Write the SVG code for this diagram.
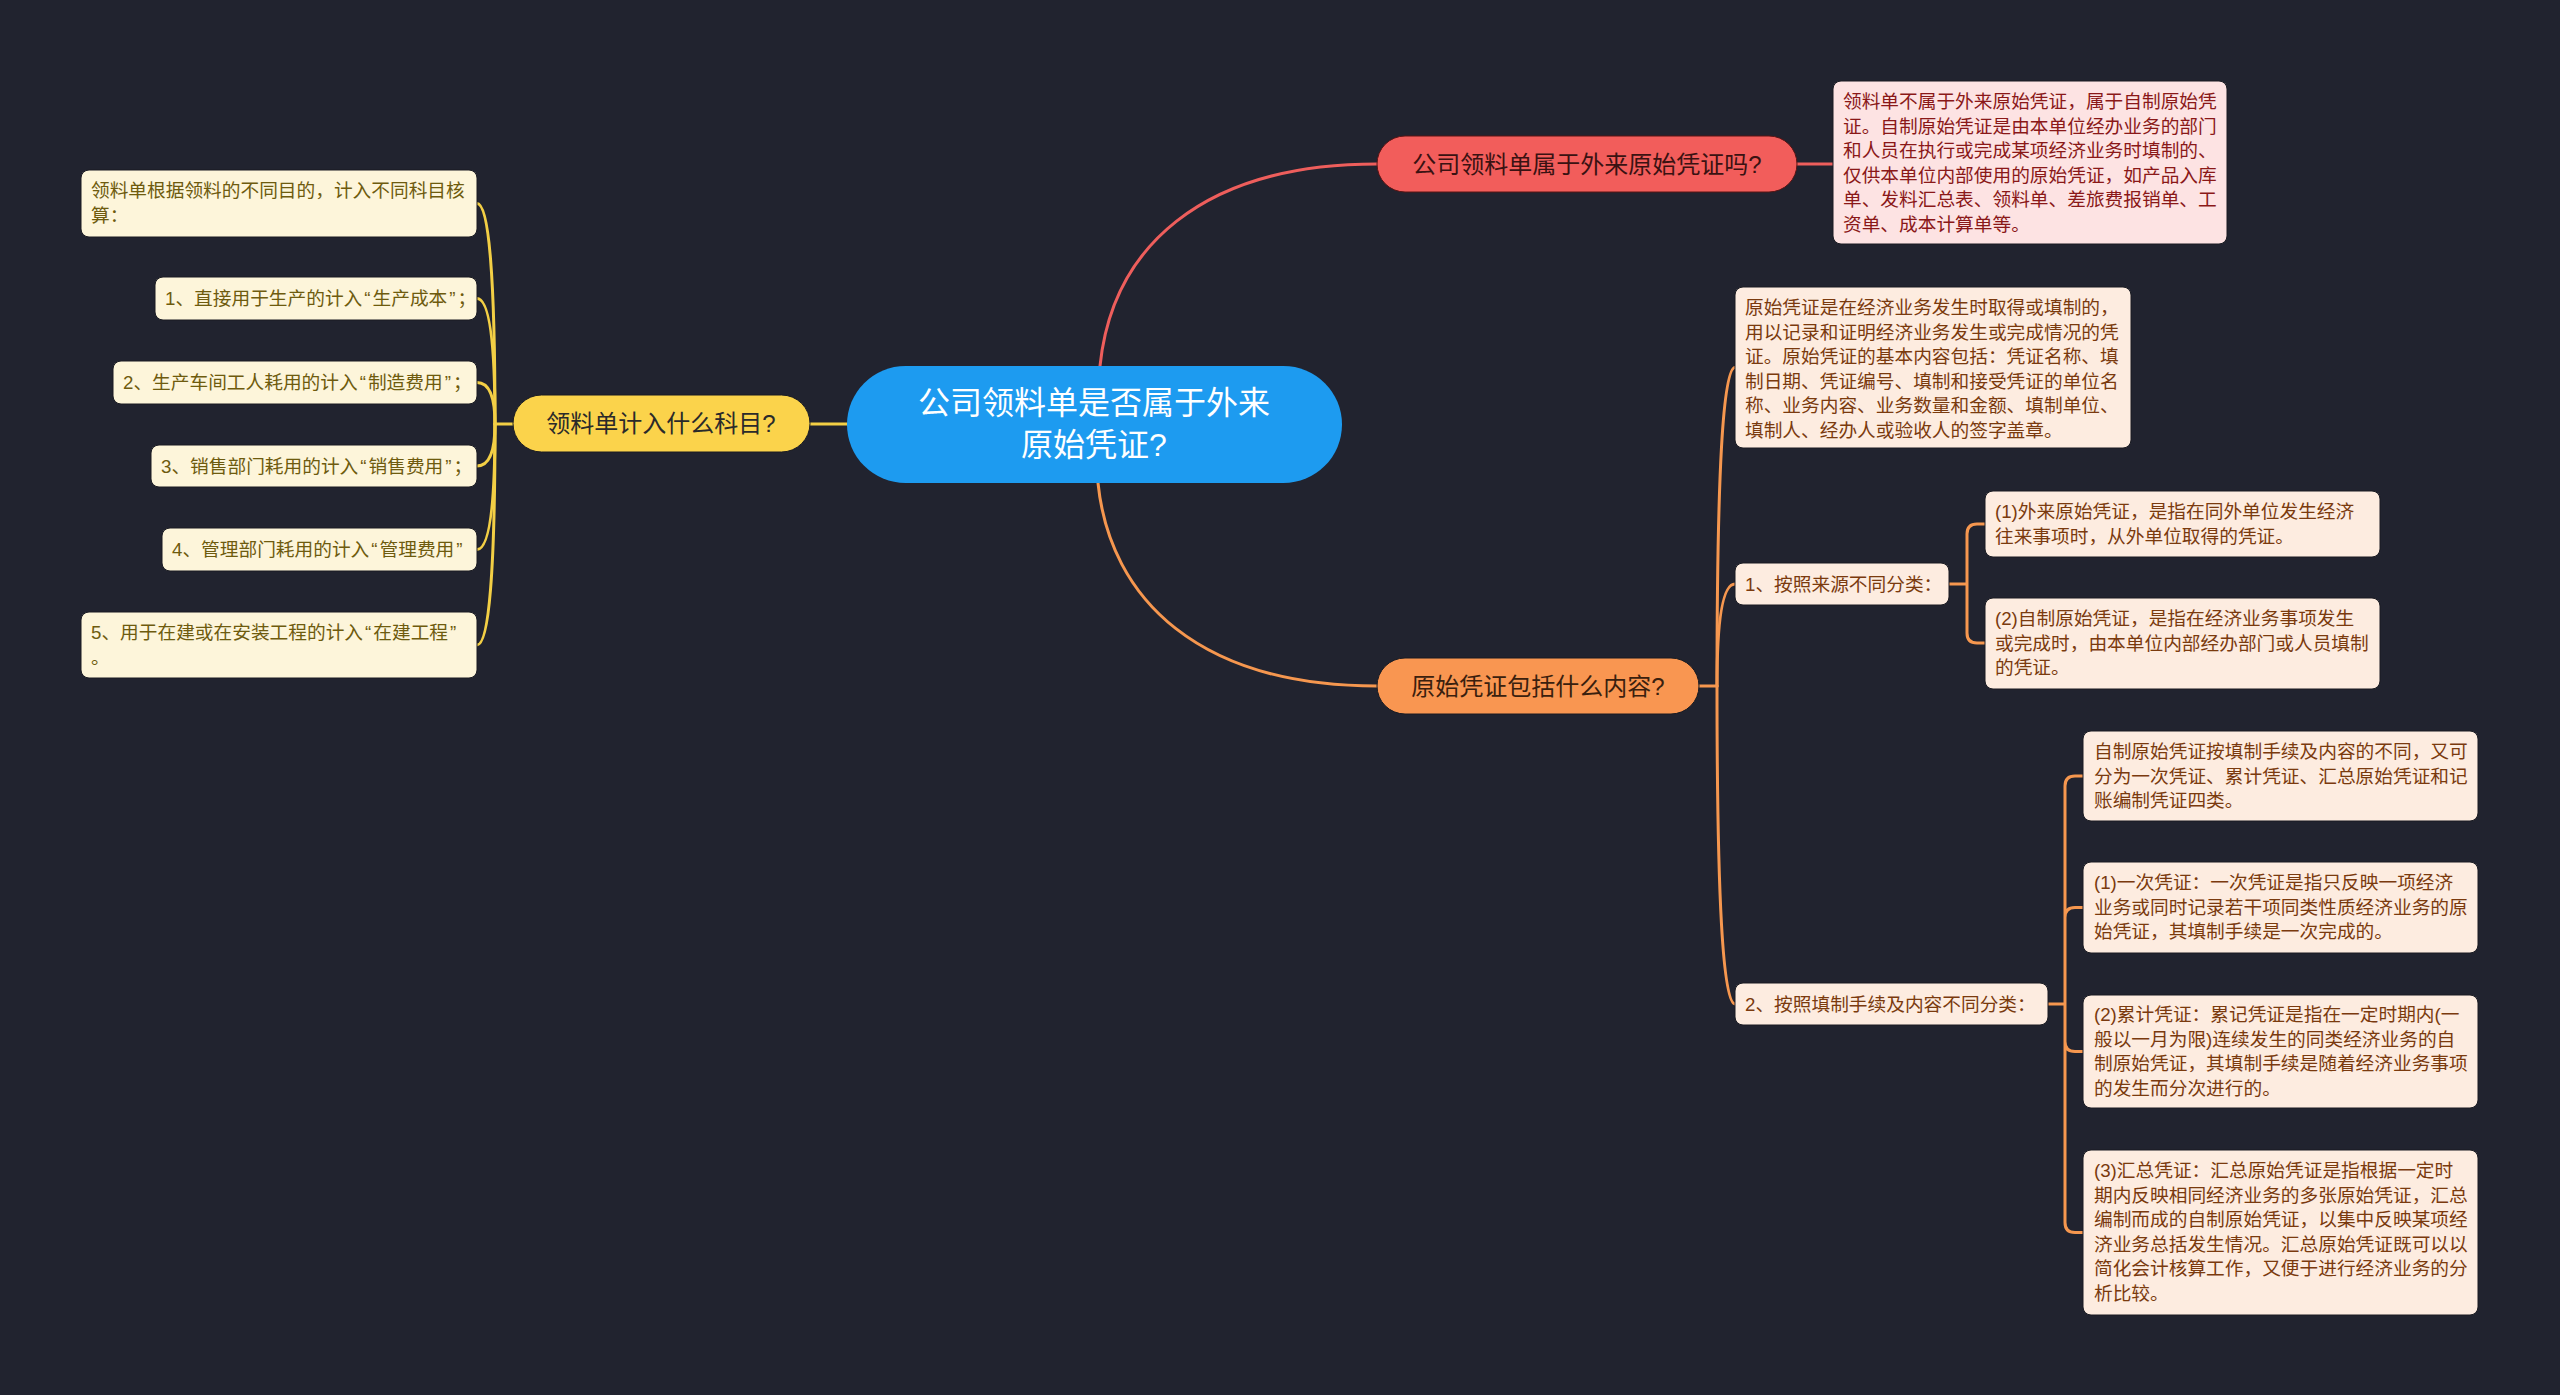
<svg xmlns="http://www.w3.org/2000/svg" width="2560" height="1395" viewBox="0 0 2560 1395">
<style>
text{font-family:"Liberation Sans","Noto Sans CJK SC",sans-serif;}
.leaf{font-size:18.7px;}
.ly rect{fill:#fdf5da;stroke:#1a1b22;stroke-width:1;}
.ly text{fill:#6e5b0e;}
.lr rect{fill:#fde3e3;stroke:#1a1b22;stroke-width:1;}
.lr text{fill:#8a1818;}
.lo rect{fill:#fdece0;stroke:#1a1b22;stroke-width:1;}
.lo text{fill:#7a3a0e;}
.main{font-size:24px;}
.c{fill:none;stroke-width:3;stroke-linecap:round;}
.cy{stroke:#f3cf45;}
.cr{stroke:#ee5e5c;}
.co{stroke:#f6974f;}
</style>
<rect x="0" y="0" width="2560" height="1395" fill="#21232f"/>
<g id="connectors">
<path class="c cy" d="M847 424H810"/>
<path class="c cr" d="M1100 366C1112 249 1200 164 1377 164"/>
<path class="c co" d="M1098 483C1110 600 1200 686 1377 686"/>
<path class="c cy" d="M513 424H495"/>
<path class="c cy" d="M495 424Q495 203.5 477 203.5"/>
<path class="c cy" d="M495 424Q495 298.5 477 298.5"/>
<path class="c cy" d="M495 424Q495 382.5 477 382.5"/>
<path class="c cy" d="M495 424Q495 466 477 466"/>
<path class="c cy" d="M495 424Q495 549.5 477 549.5"/>
<path class="c cy" d="M495 424Q495 645 477 645"/>
<path class="c cr" d="M1797 164H1833"/>
<path class="c co" d="M1699 686H1717"/>
<path class="c co" d="M1717 686Q1717 367.5 1735 367.5"/>
<path class="c co" d="M1717 686Q1717 584 1735 584"/>
<path class="c co" d="M1717 686Q1717 1004 1735 1004"/>
<path class="c co" d="M1949 584H1967M1967 584V534Q1967 524 1977 524H1985M1967 584V633Q1967 643 1977 643H1985"/>
<path class="c co" d="M2048 1004H2065M2065 1004V786Q2065 776 2075 776H2083M2065 1004V917.5Q2065 907.5 2075 907.5H2083M2065 1004V1041.5Q2065 1051.5 2075 1051.5H2083M2065 1004V1222.5Q2065 1232.5 2075 1232.5H2083"/>
</g>
<g id="center">
<rect x="847" y="366" width="495" height="117" rx="58.5" fill="#1d9bf0"/>
<text x="1094" y="413.5" font-size="32" fill="#ffffff" text-anchor="middle">公司领料单是否属于外来</text>
<text x="1094" y="455.5" font-size="32" fill="#ffffff" text-anchor="middle">原始凭证?</text>
</g>
<g id="n-yellow">
<rect x="513" y="395" width="297" height="57" rx="28.5" fill="#fbd34b" stroke="#1a1b22" stroke-width="1"/>
<text class="main" x="661" y="432" fill="#2a2a2a" text-anchor="middle">领料单计入什么科目?</text>
</g>
<g id="n-red">
<rect x="1377" y="136" width="420" height="56" rx="28" fill="#f25d5b" stroke="#5a1414" stroke-width="1"/>
<text class="main" x="1587" y="172.5" fill="#3a1212" text-anchor="middle">公司领料单属于外来原始凭证吗?</text>
</g>
<g id="n-orange">
<rect x="1377" y="658" width="322" height="56" rx="28" fill="#f99651" stroke="#1a1b22" stroke-width="1"/>
<text class="main" x="1538" y="694.5" fill="#3a200e" text-anchor="middle">原始凭证包括什么内容?</text>
</g>
<g id="y1" class="ly leaf"><rect x="81" y="170" width="396" height="67" rx="8"/><text x="91" y="197">领料单根据领料的不同目的，计入不同科目核</text><text x="91" y="221.5">算：</text></g>
<g id="y2" class="ly leaf"><rect x="155" y="277" width="322" height="43" rx="8"/><text x="165" y="305">1、直接用于生产的计入<tspan dx="2">“</tspan><tspan dx="2">生产成本</tspan><tspan dx="2">”</tspan><tspan dx="2">；</tspan></text></g>
<g id="y3" class="ly leaf"><rect x="113" y="361" width="364" height="43" rx="8"/><text x="123" y="389">2、生产车间工人耗用的计入<tspan dx="2">“</tspan><tspan dx="2">制造费用</tspan><tspan dx="2">”</tspan><tspan dx="2">；</tspan></text></g>
<g id="y4" class="ly leaf"><rect x="151" y="445" width="326" height="42" rx="8"/><text x="161" y="472.5">3、销售部门耗用的计入<tspan dx="2">“</tspan><tspan dx="2">销售费用</tspan><tspan dx="2">”</tspan><tspan dx="2">；</tspan></text></g>
<g id="y5" class="ly leaf"><rect x="162" y="528" width="315" height="43" rx="8"/><text x="172" y="556">4、管理部门耗用的计入<tspan dx="2">“</tspan><tspan dx="2">管理费用</tspan><tspan dx="2">”</tspan></text></g>
<g id="y6" class="ly leaf"><rect x="81" y="612" width="396" height="66" rx="8"/><text x="91" y="639">5、用于在建或在安装工程的计入<tspan dx="2">“</tspan><tspan dx="2">在建工程</tspan><tspan dx="2">”</tspan></text><text x="91" y="663.5">。</text></g>
<g id="r1" class="lr leaf"><rect x="1833" y="81" width="394" height="163" rx="8"/>
<text x="1843" y="108">领料单不属于外来原始凭证，属于自制原始凭</text>
<text x="1843" y="132.5">证。自制原始凭证是由本单位经办业务的部门</text>
<text x="1843" y="157">和人员在执行或完成某项经济业务时填制的、</text>
<text x="1843" y="181.5">仅供本单位内部使用的原始凭证，如产品入库</text>
<text x="1843" y="206">单、发料汇总表、领料单、差旅费报销单、工</text>
<text x="1843" y="230.5">资单、成本计算单等。</text></g>
<g id="o1" class="lo leaf"><rect x="1735" y="287" width="396" height="161" rx="8"/>
<text x="1745" y="314">原始凭证是在经济业务发生时取得或填制的，</text>
<text x="1745" y="338.5">用以记录和证明经济业务发生或完成情况的凭</text>
<text x="1745" y="363">证。原始凭证的基本内容包括：凭证名称、填</text>
<text x="1745" y="387.5">制日期、凭证编号、填制和接受凭证的单位名</text>
<text x="1745" y="412">称、业务内容、业务数量和金额、填制单位、</text>
<text x="1745" y="436.5">填制人、经办人或验收人的签字盖章。</text></g>
<g id="o2" class="lo leaf"><rect x="1735" y="563" width="214" height="42" rx="8"/><text x="1745" y="590.5">1、按照来源不同分类：</text></g>
<g id="o3" class="lo leaf"><rect x="1985" y="491" width="395" height="66" rx="8"/>
<text x="1995" y="518">(1)外来原始凭证，是指在同外单位发生经济</text>
<text x="1995" y="542.5">往来事项时，从外单位取得的凭证。</text></g>
<g id="o4" class="lo leaf"><rect x="1985" y="598" width="395" height="91" rx="8"/>
<text x="1995" y="625">(2)自制原始凭证，是指在经济业务事项发生</text>
<text x="1995" y="649.5">或完成时，由本单位内部经办部门或人员填制</text>
<text x="1995" y="674">的凭证。</text></g>
<g id="o5" class="lo leaf"><rect x="1735" y="983" width="313" height="42" rx="8"/><text x="1745" y="1010.5">2、按照填制手续及内容不同分类：</text></g>
<g id="o6" class="lo leaf"><rect x="2083" y="731" width="395" height="90" rx="8"/>
<text x="2094" y="758">自制原始凭证按填制手续及内容的不同，又可</text>
<text x="2094" y="782.5">分为一次凭证、累计凭证、汇总原始凭证和记</text>
<text x="2094" y="807">账编制凭证四类。</text></g>
<g id="o7" class="lo leaf"><rect x="2083" y="862" width="395" height="91" rx="8"/>
<text x="2094" y="889">(1)一次凭证：一次凭证是指只反映一项经济</text>
<text x="2094" y="913.5">业务或同时记录若干项同类性质经济业务的原</text>
<text x="2094" y="938">始凭证，其填制手续是一次完成的。</text></g>
<g id="o8" class="lo leaf"><rect x="2083" y="995" width="395" height="113" rx="8"/>
<text x="2094" y="1021">(2)累计凭证：累记凭证是指在一定时期内(一</text>
<text x="2094" y="1045.5">般以一月为限)连续发生的同类经济业务的自</text>
<text x="2094" y="1070">制原始凭证，其填制手续是随着经济业务事项</text>
<text x="2094" y="1094.5">的发生而分次进行的。</text></g>
<g id="o9" class="lo leaf"><rect x="2083" y="1150" width="395" height="165" rx="8"/>
<text x="2094" y="1177">(3)汇总凭证：汇总原始凭证是指根据一定时</text>
<text x="2094" y="1201.5">期内反映相同经济业务的多张原始凭证，汇总</text>
<text x="2094" y="1226">编制而成的自制原始凭证，以集中反映某项经</text>
<text x="2094" y="1250.5">济业务总括发生情况。汇总原始凭证既可以以</text>
<text x="2094" y="1275">简化会计核算工作，又便于进行经济业务的分</text>
<text x="2094" y="1299.5">析比较。</text></g>
</svg>
